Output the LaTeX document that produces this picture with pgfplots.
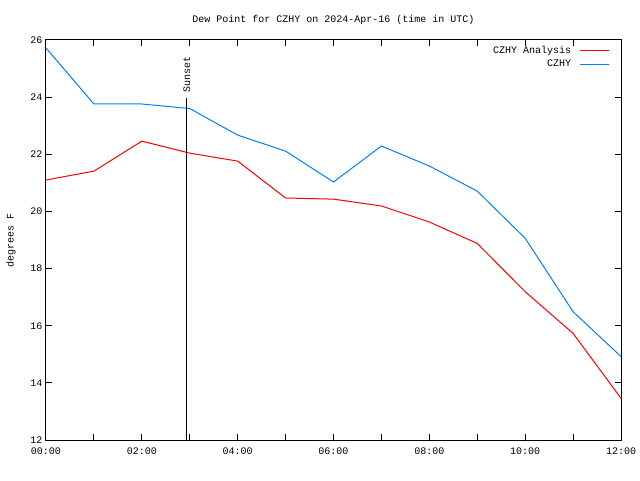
\documentclass[border=0pt]{standalone}
\usepackage{pgfplots}
\pgfplotsset{compat=1.18}
\usepackage{fontspec}
\setmainfont{Liberation Mono}
\definecolor{gpred}{RGB}{255,0,0}
\definecolor{gpblue}{RGB}{0,128,255}
\begin{document}
\begin{tikzpicture}
\path (0pt,0pt) rectangle (640pt,480pt);
\node[font=\fontsize{10}{12}\selectfont] at (333.5pt,460pt) {Dew Point for CZHY on 2024-Apr-16 (time in UTC)};
\node[font=\fontsize{10}{12}\selectfont, rotate=90] at (11pt,240pt) {degrees F};
\begin{axis}[
  at={(46pt,40pt)}, anchor=south west,
  scale only axis, width=575pt, height=400pt,
  xmin=0, xmax=12, ymin=12, ymax=26,
  xtick={0,1,...,12},
  xticklabels={00:00,,02:00,,04:00,,06:00,,08:00,,10:00,,12:00},
  ytick={12,14,...,26},
  tick align=inside,
  major tick length=6pt,
  axis line style={line width=1pt},
  every tick/.style={black, line width=1pt},
  tick label style={font=\fontsize{10}{12}\selectfont},
  /pgf/number format/assume math mode=true,
  xticklabel style={yshift=-4pt},
  legend style={draw=none, fill=none, at={(0.985,0.995)}, anchor=north east,
    font=\fontsize{10}{12}\selectfont, row sep=1pt, column sep=6pt},
  legend cell align=right,
  legend plot pos=right,
  clip=false,
]
\addlegendimage{legend image code/.code={\draw[gpred, line width=1pt] (0pt,0pt) -- (29pt,0pt);}}
\addlegendentry{CZHY Analysis}
\addlegendimage{legend image code/.code={\draw[gpblue, line width=1pt] (0pt,0pt) -- (29pt,0pt);}}
\addlegendentry{CZHY}
\addplot[gpred, line width=1pt, forget plot] coordinates {
(0,21.10) (1,21.41) (2,22.46) (3,22.04) (4,21.76) (5,20.47) (6,20.43)
(7,20.19) (8,19.63) (9,18.88) (10,17.19) (11,15.73) (12,13.46)};
\addplot[gpblue, line width=1pt, forget plot] coordinates {
(0,25.72) (1,23.76) (2,23.76) (3,23.60) (4,22.67) (5,22.11) (6,21.03)
(7,22.29) (8,21.59) (9,20.71) (10,19.06) (11,16.49) (12,14.92)};
\addplot[black, line width=1pt, forget plot] coordinates {(2.94,12) (2.94,23.97)};
\node[rotate=90, anchor=west, font=\fontsize{10}{12}\selectfont, inner sep=1pt] at (axis cs:2.94,24.12) {Sunset};
\end{axis}
\end{tikzpicture}
\end{document}
